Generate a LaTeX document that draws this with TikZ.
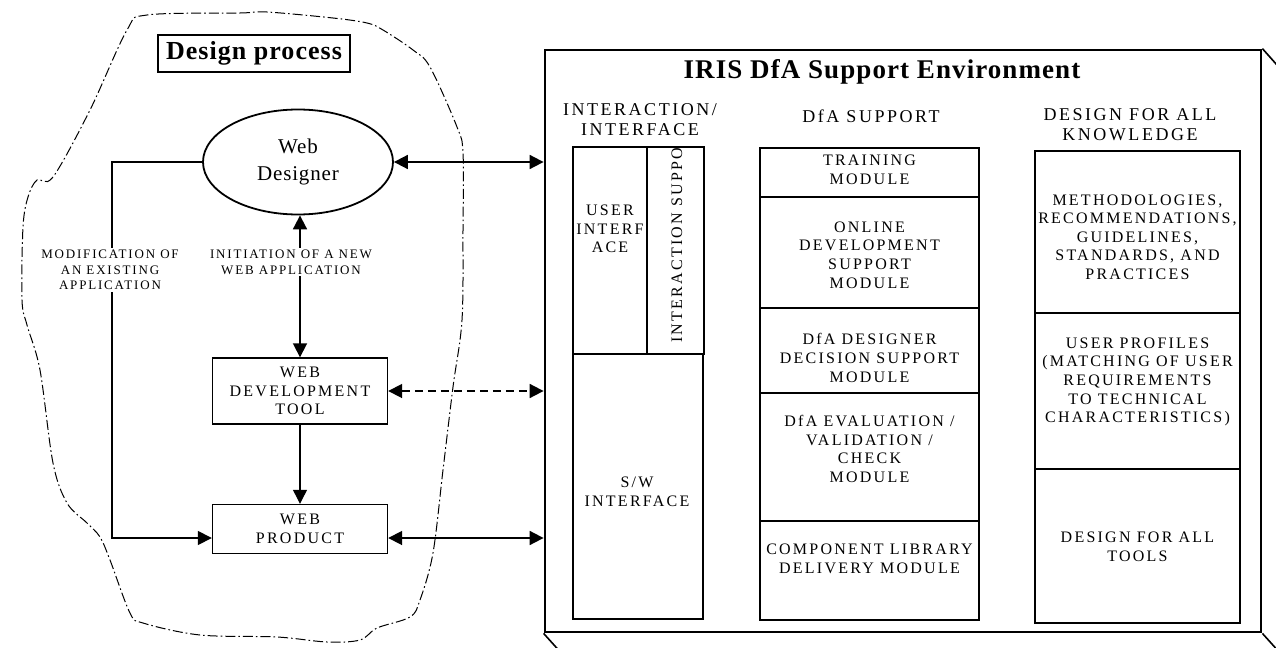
\documentclass[tikz,border=0pt]{standalone}
\usepackage{fontspec}
\setmainfont{Liberation Serif}
\newfontfamily\spacedfont[LetterSpace=14]{Liberation Serif}
\newfontfamily\tightfont[LetterSpace=4]{Liberation Serif}
\usetikzlibrary{shapes.geometric,arrows.meta}
\newcommand{\boxtxt}{\spacedfont\fontsize{8}{9.3}\selectfont}
\newcommand{\headtxt}{\spacedfont\fontsize{9}{10}\selectfont}
\newcommand{\flowtxt}{\spacedfont\fontsize{6.5}{7.8}\selectfont}
\tikzstyle{cloudline}=[line width=0.5pt,dash pattern=on 5pt off 1.5pt on 0.8pt off 1.5pt]
\tikzstyle{procbox}=[draw,line width=0.7pt,inner sep=0pt,align=center,font=\boxtxt]
\tikzstyle{modbox}=[draw,line width=0.8pt,inner sep=0pt]
\tikzstyle{boxtext}=[align=center,inner sep=0pt,font=\boxtxt]
\tikzstyle{headtext}=[align=center,inner sep=0pt,font=\headtxt]
\tikzstyle{flowtext}=[align=center,fill=white,inner sep=1pt,font=\flowtxt]
\tikzstyle{twoway}=[{Triangle[length=7pt,width=7pt]}-{Triangle[length=7pt,width=7pt]},line width=0.9pt]
\tikzstyle{oneway}=[-{Triangle[length=7pt,width=7pt]},line width=0.6pt]
\begin{document}
\begin{tikzpicture}[
x=0.5pt,y=-0.5pt
]
\useasboundingbox (0,0) rectangle (1276,648);
%design process
\draw[cloudline] plot[smooth cycle,tension=0.55] coordinates {
 (147,15) (240,13) (267,12) (333,18) (367,23) (383,30) (413,50) (430,67)
 (457,127) (463,153) (463,230) (462,320) (453,387) (443,470) (433,553)
 (420,600) (410,617) (377,628) (360,640) (327,642) (277,637) (200,635)
 (143,623) (130,613) (110,560) (100,537) (87,523) (67,503) (53,463)
 (40,370) (27,325) (22,300) (23,227) (28,197) (37,180) (53,177) (90,110) (127,30)};
\node[draw,line width=0.7pt,minimum width=96pt,minimum height=17.5pt,
  font=\tightfont\bfseries\fontsize{13}{15}\selectfont] (dproc) at (254,53.5) {Design process};
\node[ellipse,draw,line width=0.9pt,minimum width=95pt,minimum height=52.5pt,inner sep=0pt,
  align=center,font=\tightfont\fontsize{10.5}{13.5}\selectfont] (designer) at (298,162) {Web\\Designer};
\node[procbox,minimum width=87.5pt,minimum height=33pt] (devtool) at (300,391) {WEB\\DEVELOPMENT\\TOOL};
\node[procbox,minimum width=87.5pt,minimum height=24.5pt] (product) at (300,529) {WEB\\PRODUCT};
%flows
\coordinate (modturn) at (112,162);
\draw[oneway,line width=0.8pt] (designer.west) -- (modturn) |- ([yshift=-4.5pt]product.west);
\draw[twoway] (devtool.north) -- (devtool.north |- designer.south);
\draw[oneway] (devtool) -- (product);
\node[flowtext] (modlbl) at (110,270) {MODIFICATION OF\\AN EXISTING\\APPLICATION};
\node[flowtext] (initlbl) at (291,262) {INITIATION OF A NEW\\WEB APPLICATION};
%environment
\node[draw,line width=1.4pt,minimum width=358pt,minimum height=291pt,inner sep=0pt] (env) at (903,341) {};
\draw[line width=0.8pt] (env.north east) -- ++(16,18);
\draw[line width=0.8pt] (env.south west) -- ++(18,20);
\draw[line width=0.8pt] (env.south east) -- ++(18,20);
\draw[twoway] (designer.east) -- (designer.east -| env.west);
\draw[twoway,dash pattern=on 4pt off 2.5pt] (devtool.east) -- (devtool.east -| env.west);
\draw[twoway] ([yshift=-4.5pt]product.east) -- ([yshift=-4.5pt]product.east -| env.west);
\node[font=\tightfont\bfseries\fontsize{13.5}{16}\selectfont] (envtitle) at (882,72) {IRIS DfA Support Environment};
%column 1
\node[headtext] (ifhead) at (640,120) {INTERACTION/\\INTERFACE};
\node[modbox,minimum width=37pt,minimum height=103.5pt] (uibox) at (610,250.5) {};
\node[modbox,minimum width=28.5pt,minimum height=103.5pt] (isup) at (675.5,250.5) {};
\node[modbox,minimum width=65pt,minimum height=132.5pt] (swbox) at (638,486.5) {};
\node[boxtext] (uitxt) at (610,229) {USER\\INTERF\\ACE};
\begin{scope}
\clip (isup.south west) rectangle (isup.north east);
\node[boxtext,rotate=90,anchor=west] (isuptxt) at (677,343) {INTERACTION SUPPORT};
\end{scope}
\node[boxtext] (swtxt) at (637,492) {S/W\\INTERFACE};
%column 2
\node[headtext] (dfahead) at (871,116) {DfA SUPPORT};
\node[modbox,minimum width=109.5pt,minimum height=24.5pt] (train) at (869.5,172.5) {};
\node[modbox,minimum width=109.5pt,minimum height=55.5pt] (online) at (869.5,252.5) {};
\node[modbox,minimum width=109.5pt,minimum height=42.5pt] (decide) at (869.5,350.5) {};
\node[modbox,minimum width=109.5pt,minimum height=64pt] (evalmod) at (869.5,457) {};
\node[modbox,minimum width=109.5pt,minimum height=49.5pt] (complib) at (869.5,570.5) {};
\node[boxtext] (traintxt) at (869.5,170) {TRAINING\\MODULE};
\node[boxtext] (onlinetxt) at (869.5,255) {ONLINE\\DEVELOPMENT\\SUPPORT\\MODULE};
\node[boxtext] (decidetxt) at (869.5,358) {DfA DESIGNER\\DECISION SUPPORT\\MODULE};
\node[boxtext] (evaltxt) at (869.5,449) {DfA EVALUATION /\\VALIDATION /\\CHECK\\MODULE};
\node[boxtext] (complibtxt) at (869.5,559) {COMPONENT LIBRARY\\DELIVERY MODULE};
%column 3
\node[headtext] (knowhead) at (1130,125) {DESIGN FOR ALL\\KNOWLEDGE};
\node[modbox,minimum width=102.5pt,minimum height=81pt] (methods) at (1137.5,232) {};
\node[modbox,minimum width=102.5pt,minimum height=78pt] (profiles) at (1137.5,391) {};
\node[modbox,minimum width=102.5pt,minimum height=77pt] (tools) at (1137.5,546) {};
\node[boxtext] (methodstxt) at (1137.5,237) {METHODOLOGIES,\\RECOMMENDATIONS,\\GUIDELINES,\\STANDARDS, AND\\PRACTICES};
\node[boxtext] (profilestxt) at (1137.5,382) {USER PROFILES\\(MATCHING OF USER\\REQUIREMENTS\\TO TECHNICAL\\CHARACTERISTICS)};
\node[boxtext] (toolstxt) at (1137.5,547) {DESIGN FOR ALL\\TOOLS};
\end{tikzpicture}
\end{document}
